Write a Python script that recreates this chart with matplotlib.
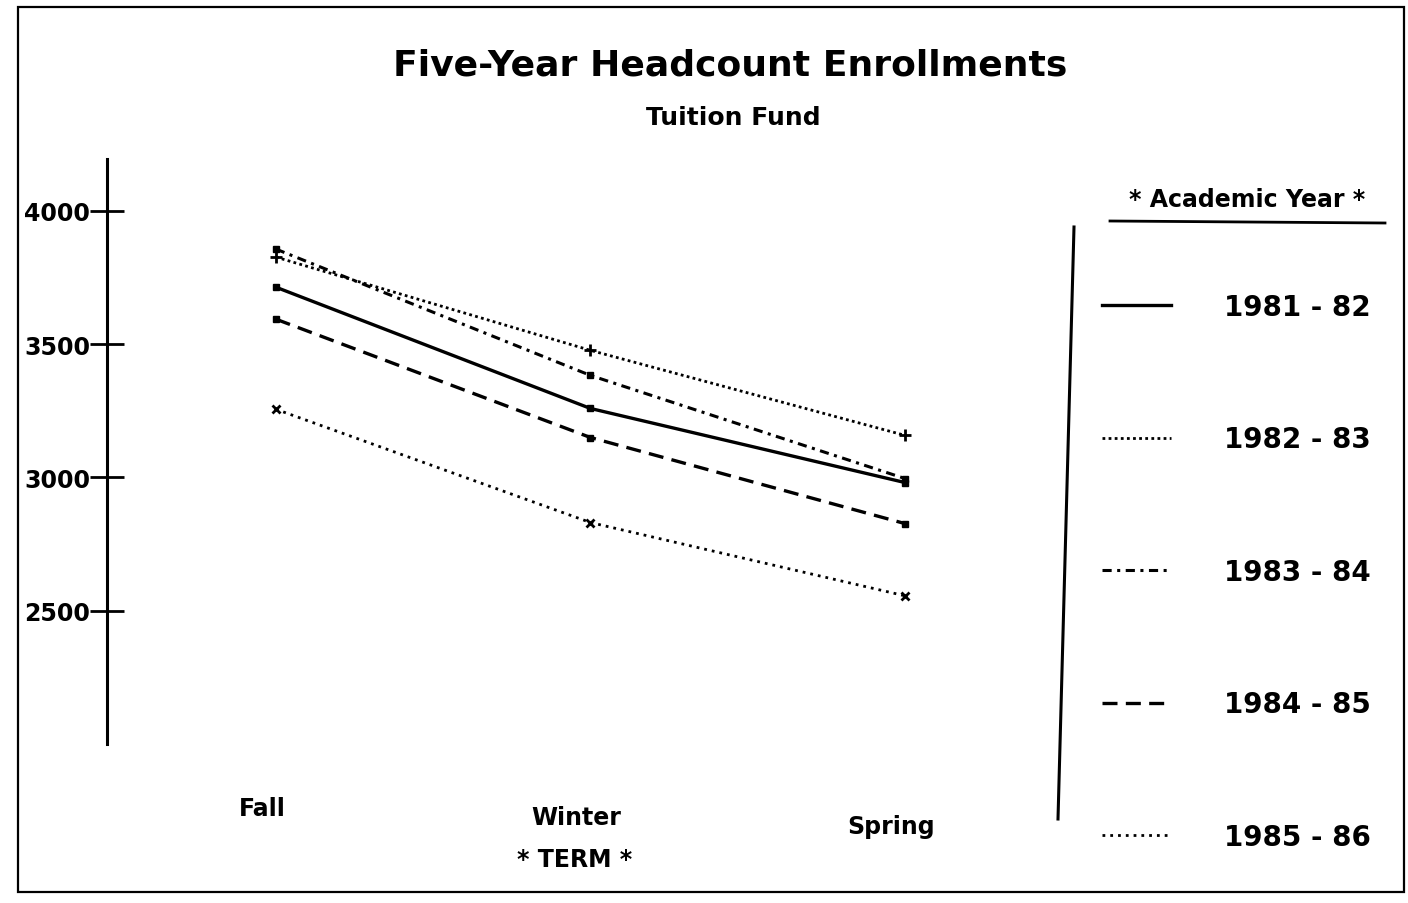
import matplotlib
matplotlib.use("Agg")
import matplotlib.pyplot as plt
import matplotlib.transforms as mtransforms
from matplotlib.lines import Line2D
from matplotlib.patches import Rectangle

terms = ["Fall", "Winter", "Spring"]
years = ["1981 - 82", "1982 - 83", "1983 - 84", "1984 - 85", "1985 - 86"]
y1981 = [3714, 3259, 2981]
y1982 = [3827, 3477, 3158]
y1983 = [3857, 3383, 2996]
y1984 = [3594, 3150, 2827]
y1985 = [3256, 2831, 2556]
series = [y1981, y1982, y1983, y1984, y1985]
yticks = [2500, 3000, 3500, 4000]

styles = [
    dict(ls="-", lw=2.4, marker="s", ms=4),
    dict(ls=(0, (1, 1.2)), lw=2.0, marker="+", ms=8, mew=2),
    dict(ls=(0, (3, 1.8, 1, 1.8)), lw=2.2, marker="s", ms=4),
    dict(ls=(0, (4.5, 2.5)), lw=2.4, marker="s", ms=4),
    dict(ls=(0, (1, 1.8)), lw=2.0, marker="x", ms=6, mew=2),
]

plt.rcParams["font.family"] = ["DejaVu Sans"]
plt.rcParams["font.weight"] = "bold"

W, H = 1408, 904
fig = plt.figure(figsize=(W / 100, H / 100), dpi=100)
fig.patch.set_facecolor("white")

def fx(px):
    return px / W

def fy(py):
    return 1 - py / H

ax = fig.add_axes([fx(107), fy(745), fx(1000) - fx(107), fy(160) - fy(745)])
xs = list(range(len(terms)))
for vals, lab, st in zip(series, years, styles):
    ax.plot(xs, vals, color="black", label=lab, **st)

ax.set_xlim(-0.537, 2.302)
ax.set_ylim(2000, 4195)
for s in ["top", "right", "bottom"]:
    ax.spines[s].set_visible(False)
ax.spines["left"].set_linewidth(2.2)
ax.set_yticks(yticks)
ax.set_yticklabels([str(v) for v in yticks], fontsize=17, fontweight="bold")
ax.tick_params(axis="y", direction="inout", length=24, width=2, pad=0)
ax.set_xticks(xs)
ax.set_xticklabels(terms, fontsize=17, fontweight="bold")
ax.tick_params(axis="x", length=0, pad=42)
shift = mtransforms.ScaledTranslation(-14 / 100, 0, fig.dpi_scale_trans)
for i, lbl in enumerate(ax.get_xticklabels()):
    dy = (-6 + 9 * i) / 100
    lbl.set_transform(lbl.get_transform() + mtransforms.ScaledTranslation(-14 / 100, -dy, fig.dpi_scale_trans))
ax.set_xlabel("* TERM *", fontsize=17, fontweight="bold")
ax.xaxis.set_label_coords((575 - 107) / 893, -(860 - 745) / 585)
ax.xaxis.label.set_va("center")
ax.set_facecolor("white")

fig.text(fx(730), fy(65), "Five-Year Headcount Enrollments", ha="center", va="center",
         fontsize=26, fontweight="bold")
fig.text(fx(733), fy(118), "Tuition Fund", ha="center", va="center",
         fontsize=18, fontweight="bold")

fig.text(fx(1247), fy(200), "* Academic Year *", ha="center", va="center",
         fontsize=17, fontweight="bold")
leg = fig.legend(loc="upper left", bbox_to_anchor=(fx(1102), fy(294)), frameon=False,
                 fontsize=20, labelspacing=3.76, handlelength=2.5, handletextpad=1.9,
                 borderaxespad=0, borderpad=0)
for h in leg.legend_handles:
    h.set_marker("")

fig.add_artist(Line2D([fx(1110), fx(1385)], [fy(222), fy(224)], color="black", lw=2))
fig.add_artist(Line2D([fx(1074), fx(1058)], [fy(228), fy(820)], color="black", lw=2.2))
fig.add_artist(Rectangle((fx(18), fy(893)), fx(1404) - fx(18), fy(8) - fy(893),
                         fill=False, edgecolor="black", lw=1.6))

fig.savefig("out.png", dpi=100)
